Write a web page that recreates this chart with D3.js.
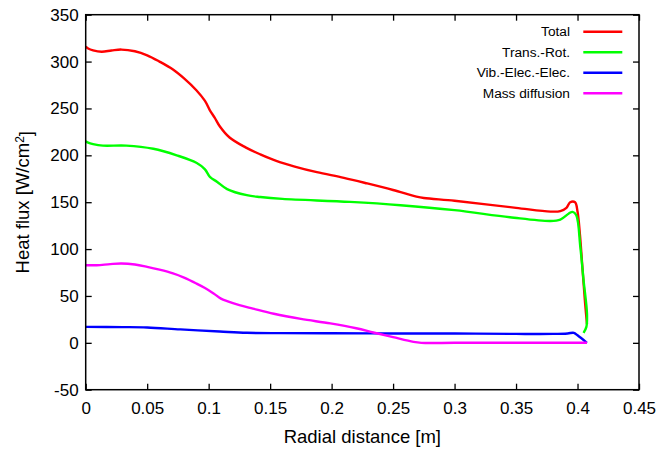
<!DOCTYPE html>
<html>
<head>
<meta charset="utf-8">
<script src="https://cdn.jsdelivr.net/npm/d3@7"></script>
<style>
  body { margin: 0; background: #fff; }
  text { font-family: "Liberation Sans", Arial, sans-serif; fill: #000; }
</style>
</head>
<body>
<div id="vis"></div>
<script>
// values
const xTicks = [0, 0.05, 0.1, 0.15, 0.2, 0.25, 0.3, 0.35, 0.4, 0.45]
const yTicks = [-50, 0, 50, 100, 150, 200, 250, 300, 350]

const totalR = [0, 0.002, 0.006, 0.013, 0.021, 0.029, 0.04, 0.05, 0.06, 0.071, 0.08, 0.09, 0.097, 0.101, 0.105, 0.109, 0.117, 0.13, 0.142, 0.155, 0.17, 0.188, 0.21, 0.229, 0.25, 0.269, 0.275, 0.3, 0.35, 0.378, 0.386, 0.391, 0.394, 0.398, 0.4, 0.402, 0.404, 0.406, 0.4077]
const totalV = [316, 314, 312, 310.5, 311.8, 312.8, 311, 306.7, 300, 291.5, 282, 269.4, 258, 248, 240, 231, 219, 208.5, 201, 194, 188, 182, 176, 170, 163, 156, 154.5, 151.5, 144, 140, 140.5, 144, 150, 150, 140, 115, 80, 45, 20]

const transR = [0, 0.002, 0.006, 0.014, 0.033, 0.055, 0.074, 0.09, 0.097, 0.101, 0.107, 0.115, 0.131, 0.142, 0.16, 0.215, 0.256, 0.3, 0.345, 0.378, 0.386, 0.393, 0.396, 0.399, 0.4023, 0.4049, 0.4077, 0.4072, 0.4049]
const transV = [215, 213.5, 212, 210.4, 210.4, 207, 200, 192, 185, 177, 171.6, 164, 157.5, 155.5, 153.5, 150.3, 146.8, 141.5, 134, 130, 131.5, 138, 139.7, 136, 102, 67, 31, 17, 10.7]

const vibR = [0, 0.03, 0.05, 0.077, 0.109, 0.131, 0.158, 0.2, 0.25, 0.3, 0.35, 0.38, 0.392, 0.397, 0.4, 0.4077]
const vibV = [17, 16.8, 16.4, 14.3, 12.1, 10.7, 10.3, 10.2, 10, 9.9, 9.5, 9.5, 10, 10.7, 8, 0]

const massR = [0, 0.009, 0.02, 0.029, 0.04, 0.05, 0.06, 0.071, 0.08, 0.09, 0.097, 0.104, 0.11, 0.115, 0.125, 0.136, 0.153, 0.175, 0.199, 0.22, 0.234, 0.25, 0.2666, 0.273, 0.3, 0.35, 0.4, 0.4077]
const massV = [82.8, 82.8, 84, 84.6, 83.5, 81, 78, 74, 69.5, 63.3, 58.5, 52.7, 47.2, 44.5, 40.2, 36.5, 31, 25.5, 20.7, 15.5, 11, 6, 1, 0, 0, 0, 0, 0]

const seriesNames = ["Total", "Trans.-Rot.", "Vib.-Elec.-Elec.", "Mass diffusion"]
const seriesColors = ["#ff0000", "#00ff00", "#0000ff", "#ff00ff"]

// pair the radius and value arrays up
const zip = (r, v) => r.map((d, i) => ({r: d, v: v[i]}))
const series = [zip(totalR, totalV), zip(transR, transV), zip(vibR, vibV), zip(massR, massV)]

const W = 672, H = 449
const margin = {top: 14.7, right: 33, bottom: 59.3, left: 85.7}
const width = W - margin.left - margin.right
const height = H - margin.top - margin.bottom

const svg = d3.select("#vis").append("svg")
    .attr("width", W)
    .attr("height", H)

const g = svg.append("g")
    .attr("transform", "translate(" + margin.left + "," + margin.top + ")")

let x = d3.scaleLinear().domain([0, 0.45]).range([0, width])
let y = d3.scaleLinear().domain([-50, 350]).range([height, 0])

//axes with inward ticks like gnuplot
const tickStyle = sel => {
    sel.select(".domain").remove()
    sel.selectAll(".tick line").attr("stroke", "#000").attr("stroke-width", 1.3)
    sel.selectAll("text").style("font-size", "17px").attr("font-family", null)
}

//plain hyphen for negative numbers, as in the picture
const plain = d => String(d)

g.append("g")
    .attr("transform", "translate(0," + height + ")")
    .call(d3.axisBottom(x).tickValues(xTicks).tickSize(-6).tickPadding(12).tickFormat(plain))
    .call(tickStyle)

g.append("g")
    .call(d3.axisTop(x).tickValues(xTicks).tickSize(-6).tickFormat(""))
    .call(tickStyle)

g.append("g")
    .call(d3.axisLeft(y).tickValues(yTicks).tickSize(-6).tickPadding(7).tickFormat(plain))
    .call(tickStyle)

g.append("g")
    .attr("transform", "translate(" + width + ",0)")
    .call(d3.axisRight(y).tickValues(yTicks).tickSize(-6).tickFormat(""))
    .call(tickStyle)

//the curves
const line = d3.line()
    .x(d => x(d.r))
    .y(d => y(d.v))
    .curve(d3.curveCatmullRom.alpha(0.5))

g.selectAll(".series")
    .data(series)
    .enter()
    .append("path")
    .attr("class", "series")
    .attr("d", line)
    .attr("fill", "none")
    .attr("stroke", (d, i) => seriesColors[i])
    .attr("stroke-width", 2.4)
    .attr("stroke-linejoin", "round")

//frame
g.append("rect")
    .attr("width", width)
    .attr("height", height)
    .attr("fill", "none")
    .attr("stroke", "#000")
    .attr("stroke-width", 1.5)

//legend
const legend = g.selectAll(".legend")
    .data(seriesNames)
    .enter()
    .append("g")
    .attr("class", "legend")
    .attr("transform", (d, i) => "translate(0," + (17 + i * 20.5) + ")")

legend.append("text")
    .attr("x", 570 - margin.left)
    .attr("dy", "0.35em")
    .attr("text-anchor", "end")
    .style("font-size", "13.7px")
    .text(d => d)

legend.append("line")
    .attr("x1", 583.3 - margin.left)
    .attr("x2", 622.3 - margin.left)
    .attr("stroke", (d, i) => seriesColors[i])
    .attr("stroke-width", 2.4)

//axis titles
svg.append("text")
    .attr("x", margin.left + width / 2)
    .attr("y", 443)
    .attr("text-anchor", "middle")
    .style("font-size", "18.5px")
    .text("Radial distance [m]")

const yl = svg.append("text")
    .attr("transform", "translate(29," + (margin.top + height / 2) + ")rotate(-90)")
    .attr("text-anchor", "middle")
    .style("font-size", "18.5px")
yl.append("tspan").text("Heat flux [W/cm")
yl.append("tspan").attr("dy", "-0.45em").style("font-size", "12px").text("2")
yl.append("tspan").attr("dy", "0.45em").text("]")
</script>
</body>
</html>
